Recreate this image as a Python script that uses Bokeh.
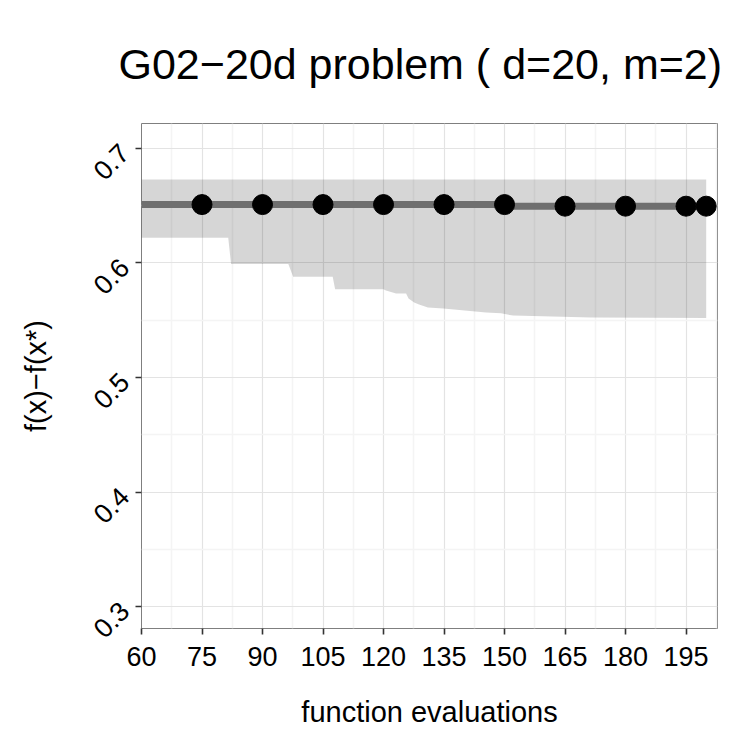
import math
from bokeh.plotting import figure
from bokeh.models import Range1d, FixedTicker
from bokeh.embed import file_html
from bokeh.resources import INLINE

# ---- data ----
ribbon_x = [60, 81.5, 82.2, 96.4, 97.6, 107.4, 108.0, 120.0, 120.6, 123.1, 125.6,
            126.2, 127.6, 128.8, 131.0, 134.8, 145.4, 149.1, 152.1, 171.4, 200]
ribbon_lower = [0.622, 0.622, 0.599, 0.599, 0.588, 0.588, 0.577, 0.577, 0.576, 0.5734, 0.5734,
                0.569, 0.5655, 0.5638, 0.5611, 0.5603, 0.5568, 0.556, 0.5541, 0.5524, 0.552]
ribbon_upper = [0.673, 0.673, 0.673, 0.673, 0.673, 0.673, 0.673, 0.673, 0.673, 0.673, 0.673,
                0.673, 0.673, 0.673, 0.673, 0.673, 0.673, 0.673, 0.673, 0.673, 0.673]

line_x = [60, 152, 152, 200]
line_y = [0.651, 0.651, 0.6496, 0.6496]

point_x = [75, 90, 105, 120, 135, 150, 165, 180, 195, 200]
point_y = [0.651, 0.651, 0.651, 0.651, 0.651, 0.651, 0.6496, 0.6496, 0.6496, 0.6496]

x_ticks = [60, 75, 90, 105, 120, 135, 150, 165, 180, 195]
x_minor = [67.5, 82.5, 97.5, 112.5, 127.5, 142.5, 157.5, 172.5, 187.5, 202.5]
y_ticks = [0.3, 0.4, 0.5, 0.6, 0.7]
y_minor = [0.35, 0.45, 0.55, 0.65]
y_labels = ["0.3", "0.4", "0.5", "0.6", "0.7"]

title_text = "G02\u221220d problem ( d=20, m=2)"
x_title = "function evaluations"
y_title = "f(x)\u2212f(x*)"

FONT = "Liberation Sans"

p = figure(frame_width=576, frame_height=505,
           x_range=Range1d(60, 202.8), y_range=Range1d(0.2808, 0.7218),
           output_backend="svg", toolbar_location=None,
           min_border_left=141, min_border_right=22,
           min_border_top=123, min_border_bottom=103,
           background_fill_color="white", border_fill_color="white")

p.title.text = title_text
p.title.text_font = FONT
p.title.text_font_size = "43px"
p.title.text_font_style = "normal"
p.title.text_color = "black"
p.title.align = "left"
p.title.offset = -23
p.title.standoff = 72

p.outline_line_color = "#7f7f7f"
p.outline_line_width = 1

# grids
p.xaxis.ticker = FixedTicker(ticks=x_ticks, minor_ticks=x_minor)
p.yaxis.ticker = FixedTicker(ticks=y_ticks, minor_ticks=y_minor)
for g in (p.xgrid, p.ygrid):
    g.grid_line_color = "#e3e3e3"
    g.grid_line_width = 1.2
    g.minor_grid_line_color = "#f4f4f4"
    g.minor_grid_line_width = 1.6

# axes
for ax in (p.xaxis, p.yaxis):
    ax.axis_line_color = None
    ax.major_tick_line_color = "#333333"
    ax.major_tick_line_width = 1.6
    ax.major_tick_out = 6
    ax.major_tick_in = 0
    ax.minor_tick_line_color = None
    ax.major_label_text_font = FONT
    ax.major_label_text_font_size = "27px"
    ax.major_label_text_color = "black"
    ax.axis_label_text_font = FONT
    ax.axis_label_text_font_size = "29px"
    ax.axis_label_text_font_style = "normal"
    ax.axis_label_text_color = "black"

p.xaxis.axis_label = x_title
p.xaxis.major_label_standoff = 12
p.xaxis.axis_label_standoff = 27
p.yaxis.axis_label = y_title
p.yaxis.major_label_orientation = math.pi / 4
p.yaxis.major_label_standoff = 11
p.yaxis.axis_label_standoff = 30
p.yaxis.major_label_overrides = {t: s for t, s in zip(y_ticks, y_labels)}

# glyphs
p.varea(x=ribbon_x, y1=ribbon_lower, y2=ribbon_upper,
        fill_color="black", fill_alpha=0.16)
p.line(x=line_x, y=line_y, line_color="#6f6f6f", line_width=7)
p.scatter(x=point_x, y=point_y, size=20, fill_color="black", line_color="black")

open("out.html", "w").write(file_html(p, INLINE))
